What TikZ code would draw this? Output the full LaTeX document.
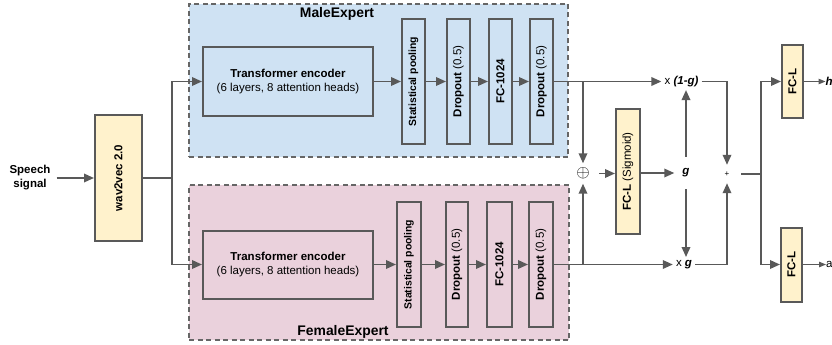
\documentclass[tikz,border=0pt]{standalone}
\usepackage{fontspec}
\setmainfont{Liberation Sans}
\usetikzlibrary{arrows.meta}
\definecolor{edge}{HTML}{595959}
\definecolor{dashc}{HTML}{666666}
\definecolor{maleblue}{HTML}{CFE2F3}
\definecolor{femalepink}{HTML}{EAD1DC}
\definecolor{yel}{HTML}{FFF2CC}
\begin{document}
\begin{tikzpicture}[x=1pt,y=-1pt,
  font=\fontsize{11.5}{14}\selectfont,
  box/.style={draw=edge, line width=2pt, inner sep=0pt, align=center},
  ybox/.style={box, fill=yel},
  expert/.style={draw=dashc, line width=1.6pt, dash pattern=on 5pt off 3.5pt, inner sep=0pt},
  etitle/.style={font=\fontsize{13.9}{16}\selectfont\bfseries, inner sep=0pt},
  arr/.style={draw=edge, line width=1.8pt, -{Triangle[length=10pt,width=8.5pt]}},
  thinarr/.style={draw=edge, line width=1pt, -{Triangle[length=7pt,width=5.5pt]}},
  ln/.style={draw=edge, line width=1.8pt}]
\useasboundingbox (0,0) rectangle (832,345);
% expert panels
\node[expert, fill=maleblue, minimum width=379pt, minimum height=153pt] (male) at (378.5,80.5) {};
\node[expert, fill=femalepink, minimum width=380pt, minimum height=155pt] (female) at (379,262.5) {};
\node[etitle] (maleT) at (337,14) {MaleExpert};
\node[etitle] (femaleT) at (343,332) {FemaleExpert};
% input
\node[font=\fontsize{11.5}{14}\selectfont\bfseries, align=center, inner xsep=6pt] (speech) at (30,178) {Speech\\signal};
\node[ybox, minimum width=47pt, minimum height=126pt] (wav) at (118.5,178) {\rotatebox{90}{\textbf{wav2vec 2.0}}};
% male expert row
\node[box, minimum width=170pt, minimum height=69pt] (tm) at (288,81.5) {\textbf{Transformer encoder}\\(6 layers, 8 attention heads)};
\node[box, minimum width=23pt, minimum height=125pt] (spm) at (413.5,81.5) {\rotatebox{90}{\fontsize{10.4}{12}\selectfont\textbf{Statistical pooling}}};
\node[box, minimum width=23pt, minimum height=125pt] (d1m) at (458.5,81.5) {\rotatebox{90}{\textbf{Dropout} (0.5)}};
\node[box, minimum width=23pt, minimum height=125pt] (fcm) at (500.5,81.5) {\rotatebox{90}{\textbf{FC-1024}}};
\node[box, minimum width=23pt, minimum height=125pt] (d2m) at (541.5,81.5) {\rotatebox{90}{\textbf{Dropout} (0.5)}};
% female expert row
\node[box, minimum width=170pt, minimum height=68pt] (tf) at (288,264.5) {\textbf{Transformer encoder}\\(6 layers, 8 attention heads)};
\node[box, minimum width=24pt, minimum height=125pt] (spf) at (409,264.5) {\rotatebox{90}{\fontsize{10.4}{12}\selectfont\textbf{Statistical pooling}}};
\node[box, minimum width=22pt, minimum height=125pt] (d1f) at (457,264.5) {\rotatebox{90}{\textbf{Dropout} (0.5)}};
\node[box, minimum width=25pt, minimum height=125pt] (fcf) at (499.5,264.5) {\rotatebox{90}{\textbf{FC-1024}}};
\node[box, minimum width=24pt, minimum height=125pt] (d2f) at (541,264.5) {\rotatebox{90}{\textbf{Dropout} (0.5)}};
% gating
\node[inner sep=0pt, minimum size=20pt, font=\fontsize{17}{17}\selectfont] (oplus) at (583,173.5) {$\oplus$};
\node[ybox, minimum width=24pt, minimum height=125pt] (fcs) at (628,171.5) {\rotatebox{90}{\textbf{FC-L} (Sigmoid)}};
\node[inner xsep=8pt, inner ysep=12pt] (g) at (686,173) {\textbf{\textit{g}}};
\node[inner sep=3pt] (x1g) at (681.5,81.5) {x \textbf{\textit{(1-g)}}};
\node[inner sep=3pt] (xg) at (684,264.5) {x \textbf{\textit{g}}};
\node[inner sep=0pt, minimum width=28pt, minimum height=18pt, font=\fontsize{8}{8}\selectfont] (plus) at (727,174) {+};
% heads
\node[ybox, minimum width=21pt, minimum height=73pt] (fch) at (792.5,81.5) {\rotatebox{90}{\textbf{FC-L}}};
\node[ybox, minimum width=21pt, minimum height=74pt] (fca) at (791.5,264.5) {\rotatebox{90}{\textbf{FC-L}}};
\node[anchor=west, inner sep=0pt] (hout) at (825.5,81.5) {\textbf{\textit{h}}};
\node[anchor=west, inner sep=0pt] (aout) at (826,264.5) {a};
% coordinates
\coordinate (j1) at (172,178);
\coordinate (bm) at (583,81.5);
\coordinate (bf) at (583,264.5);
\coordinate (j2) at (761,174);
% connectors
\draw[arr] (speech) -- (wav);
\draw[ln] (wav) -- (j1);
\draw[arr] (j1) |- (tm);
\draw[arr] (j1) |- (tf);
\draw[arr] (tm) -- (spm);
\draw[arr] (spm) -- (d1m);
\draw[arr] (d1m) -- (fcm);
\draw[arr] (fcm) -- (d2m);
\draw[arr] (tf) -- (spf);
\draw[arr] (spf) -- (d1f);
\draw[arr] (d1f) -- (fcf);
\draw[arr] (fcf) -- (d2f);
\draw[arr] (d2m) -- (x1g);
\draw[arr] (d2f) -- (xg);
\draw[arr] (bm) -- (oplus);
\draw[arr] (bf) -- (oplus);
\draw[arr, shorten <=6pt] (oplus.east) -- (oplus.east -| fcs.west);
\draw[arr] (fcs.east |- g.west) -- (g.west);
\draw[arr] (g.north) -- (g.north |- x1g.south);
\draw[arr] (g.south) -- (g.south |- xg.north);
\draw[arr] (x1g) -| (plus);
\draw[arr] (xg) -| (plus);
\draw[ln] (plus) -- (j2);
\draw[arr] (j2) |- (fch);
\draw[arr] (j2) |- (fca);
\draw[thinarr] (fch) -- (hout);
\draw[thinarr] (fca) -- (aout);
\end{tikzpicture}
\end{document}
